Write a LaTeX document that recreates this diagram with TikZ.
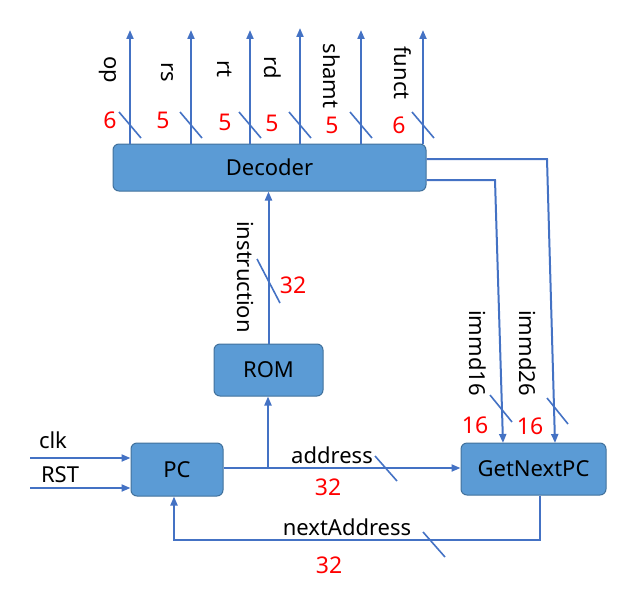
\documentclass[tikz,border=0pt]{standalone}
\usepackage{fontspec}
\setmainfont{Noto Sans}
\usetikzlibrary{arrows.meta}
\definecolor{boxfill}{HTML}{5B9BD5}
\definecolor{boxline}{HTML}{41719C}
\definecolor{wire}{HTML}{4472C4}
\definecolor{num}{HTML}{FF0000}
\tikzset{
  blk/.style={draw=boxline, line width=1pt, fill=boxfill, rounded corners=6pt, inner sep=0pt, font=\fontsize{22}{26}\selectfont},
  arr/.style={draw=wire, line width=2pt, -{Triangle[length=9pt,width=7pt]}},
  slash/.style={draw=wire, line width=1.6pt},
  lbl/.style={font=\fontsize{22}{26}\selectfont, inner sep=0pt},
  vlbl/.style={lbl, rotate=-90},
  numlbl/.style={font=\fontsize{23}{27}\selectfont, text=num, inner sep=0pt}
}
\begin{document}
\begin{tikzpicture}[x=1pt,y=-1pt]
\useasboundingbox (0,0) rectangle (639,594);
% blocks
\node[blk, minimum width=313pt, minimum height=47pt] (dec) at (269.5,167.5) {Decoder};
\node[blk, minimum width=109pt, minimum height=52pt] (rom) at (268.5,370) {ROM};
\node[blk, minimum width=92pt, minimum height=53pt] (pc) at (177,469.5) {PC};
\node[blk, minimum width=145pt, minimum height=52pt] (gnp) at (533.5,469) {GetNextPC};
% decoder top outputs
\coordinate (opT) at (130,30);
\coordinate (rsT) at (191,30);
\coordinate (rtT) at (250,30);
\coordinate (rdT) at (300,28);
\coordinate (shT) at (361,30);
\coordinate (fnT) at (423,30);
\foreach \c in {opT,rsT,rtT,rdT,shT,fnT} \draw[arr] (dec.north -| \c) -- (\c);
\node[vlbl] (opL) at (108,70) {op};
\node[vlbl] (rsL) at (167,72) {rs};
\node[vlbl] (rtL) at (225,69) {rt};
\node[vlbl] (rdL) at (273,68) {rd};
\node[vlbl] (shL) at (332,76) {shamt};
\node[vlbl] (fnL) at (403,73) {funct};
\foreach \x in {130,191,250,300,361,423} \draw[slash] (\x-11,112) -- (\x+11,138);
\node[numlbl] (opN) at (110,120) {6};
\node[numlbl] (rsN) at (163,120) {5};
\node[numlbl] (rtN) at (225,122) {5};
\node[numlbl] (rdN) at (272,123) {5};
\node[numlbl] (shN) at (332,125) {5};
\node[numlbl] (fnN) at (399,125) {6};
% decoder to GetNextPC
\coordinate (b26) at (547,159);
\coordinate (b16) at (495,180);
\coordinate (e26) at (555,443);
\coordinate (e16) at (503,443);
\draw[arr] (dec.east |- b26) -- (b26) -- (e26);
\draw[arr] (dec.east |- b16) -- (b16) -- (e16);
\node[vlbl] (i16L) at (478,353) {immd16};
\node[vlbl] (i26L) at (528,353) {immd26};
\draw[slash] (490,395) -- (512,422);
\draw[slash] (547,398) -- (568,424);
\node[numlbl] (i16N) at (475,425) {16};
\node[numlbl] (i26N) at (530,426) {16};
% ROM to decoder
\draw[arr] (rom.north) -- (dec.south -| rom.north);
\node[vlbl] (insL) at (245,277) {instruction};
\draw[slash] (257,259) -- (280,303);
\node[numlbl] (insN) at (293,285) {32};
% PC to GetNextPC and ROM
\coordinate (br) at (268,468);
\draw[arr] (pc.east |- br) -- (gnp.west |- br);
\draw[arr] (br) -- (rom.south -| br);
\node[lbl] (adL) at (332,455) {address};
\draw[slash] (375,456) -- (397,481);
\node[numlbl] (adN) at (328,487) {32};
% inputs
\coordinate (clkS) at (30,458);
\coordinate (rstS) at (30,488);
\draw[arr] (clkS) -- (pc.west |- clkS);
\draw[arr] (rstS) -- (pc.west |- rstS);
\node[lbl] (clkL) at (53,440) {clk};
\node[lbl] (rstL) at (60,475) {RST};
% feedback
\coordinate (fb1) at (540,540);
\coordinate (fb2) at (174,540);
\draw[arr] (gnp.south -| fb1) -- (fb1) -- (fb2) -- (pc.south -| fb2);
\node[lbl] (naL) at (347,527) {nextAddress};
\draw[slash] (423,532) -- (445,557);
\node[numlbl] (naN) at (329,565) {32};
\end{tikzpicture}
\end{document}
